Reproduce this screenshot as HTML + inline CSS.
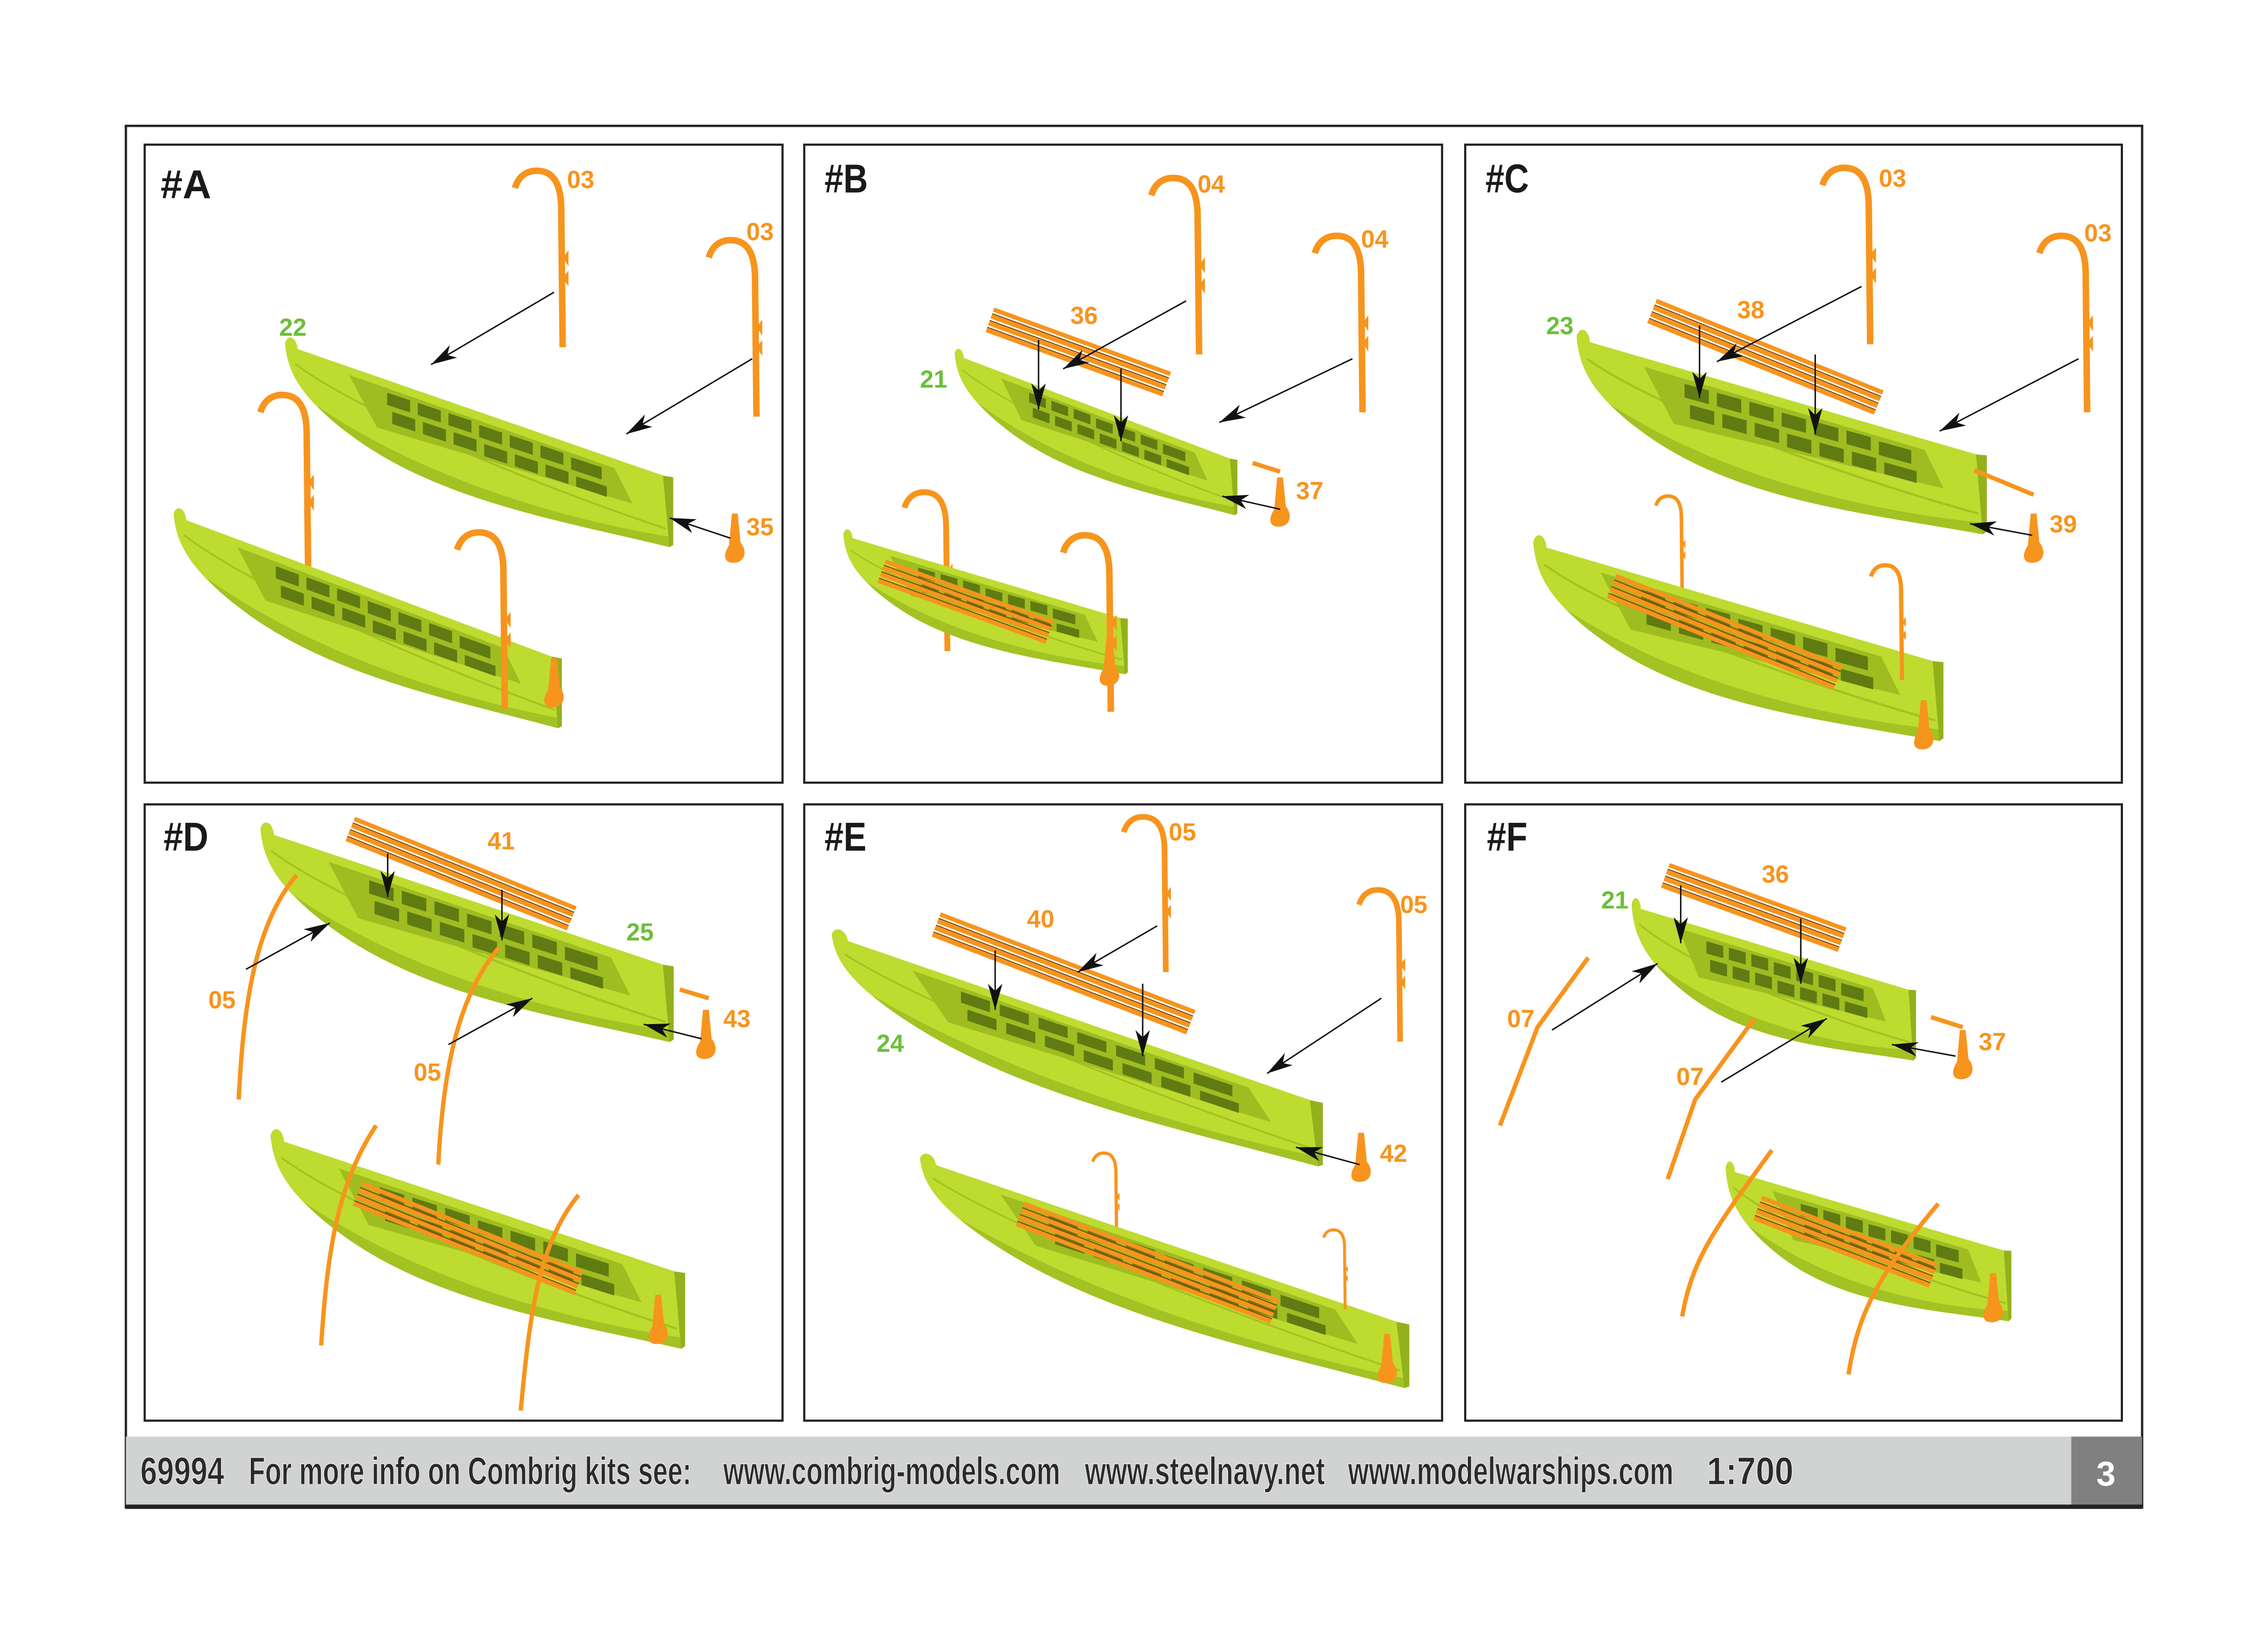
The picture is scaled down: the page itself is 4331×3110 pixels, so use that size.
<!DOCTYPE html>
<html><head><meta charset="utf-8"><style>
html,body{margin:0;padding:0;background:#fff}
svg{display:block}
.t{font-family:"Liberation Sans Narrow","Liberation Sans",sans-serif;font-weight:bold}
.o{fill:#f7941d;font-size:17px}
.g{fill:#6cbf3a;font-size:17px}
.h{fill:#1a1a1a;font-size:28px}
</style></head><body>
<svg width="4331" height="3110" viewBox="0 0 1568 1126" xmlns="http://www.w3.org/2000/svg">
<defs>
<marker id="ar" viewBox="0 0 18 10" refX="18" refY="5" markerWidth="18" markerHeight="10" markerUnits="userSpaceOnUse" orient="auto"><path d="M0,0 L18,5 L0,10 L5,5Z" fill="#111"/></marker>
<g id="boat">
<path d="M0,-4 C2,-10 9,-10 10,-3 L300,0 L301,40 C220,45 120,58 50,36 C15,25 2,14 0,-4Z" fill="#bedb30"/>
<path d="M25,26 C110,48 220,44 301,34 L301,40 C220,45 120,58 50,36 C40,33 32,30 25,26Z" fill="#a3c223"/>
<path d="M8,6 C60,22 200,30 298,30" stroke="#a3c223" stroke-width="1.2" fill="none"/>
<path d="M50,2 L258,5 L272,22 L72,27Z" fill="#9fbd21"/>
<g fill="#5f7b12">
<rect x="80" y="5" width="18" height="7"/><rect x="104" y="5" width="18" height="7"/><rect x="128" y="5" width="18" height="7"/><rect x="152" y="6" width="18" height="7"/><rect x="176" y="6" width="18" height="7"/><rect x="200" y="6" width="18" height="7"/><rect x="224" y="7" width="24" height="7"/>
<rect x="84" y="15" width="18" height="7"/><rect x="108" y="15" width="18" height="7"/><rect x="132" y="15" width="18" height="7"/><rect x="156" y="16" width="18" height="7"/><rect x="180" y="16" width="18" height="7"/><rect x="204" y="16" width="18" height="7"/><rect x="228" y="17" width="24" height="6"/>
</g>
<path d="M296,0 L304,-1 L304,38 L301,40Z" fill="#93b11c"/>
</g>
<g id="dav">
<path d="M0,0 L-1,-95 C-1,-118 -10,-122 -18,-122 C-26,-122 -31,-117 -33,-110" fill="none" stroke="#f7941d" stroke-width="4.5"/>
<path d="M0,-62 l4,-5 v11z M0,-48 l4,-5 v11z" fill="#f7941d"/>
</g>
<path id="rud" d="M0,0 L4,0 L6,20 C11,26 9,34 1,34 C-6,34 -6,28 -2,22 Z" fill="#f7941d"/>
<g id="pl">
<line x1="0" y1="0" x2="130" y2="0" stroke="#f7941d" stroke-width="3"/>
<line x1="0" y1="3" x2="130" y2="3" stroke="#8a4a00" stroke-width="0.8"/>
<line x1="0" y1="5" x2="130" y2="5" stroke="#f7941d" stroke-width="3"/>
<line x1="0" y1="8" x2="130" y2="8" stroke="#8a4a00" stroke-width="0.8"/>
<line x1="0" y1="10" x2="130" y2="10" stroke="#f7941d" stroke-width="3"/>
<line x1="0" y1="13" x2="130" y2="13" stroke="#8a4a00" stroke-width="0.8"/>
<line x1="0" y1="15" x2="130" y2="15" stroke="#f7941d" stroke-width="3"/>
</g>
</defs>

<!-- frame -->
<rect x="87" y="87" width="1394" height="955" fill="none" stroke="#222" stroke-width="1.6"/>
<g fill="none" stroke="#222" stroke-width="1.5">
<rect x="100" y="100" width="441" height="441"/>
<rect x="556" y="100" width="441" height="441"/>
<rect x="1013" y="100" width="454" height="441"/>
<rect x="100" y="556" width="441" height="426"/>
<rect x="556" y="556" width="441" height="426"/>
<rect x="1013" y="556" width="454" height="426"/>
</g>
<rect x="87" y="993" width="1345" height="48" fill="#d1d3d2"/>
<rect x="1432" y="993" width="49" height="48" fill="#808080"/>
<rect x="87" y="1040" width="1394" height="3" fill="#222"/>
<g class="t" font-size="27" fill="#2a2a2a" stroke="#fff" stroke-width="0.4">
<text x="97" y="1026" textLength="58" lengthAdjust="spacingAndGlyphs">69994</text>
<text x="172" y="1026" textLength="306" lengthAdjust="spacingAndGlyphs">For more info on Combrig kits see:</text>
<text x="500" y="1026" textLength="233" lengthAdjust="spacingAndGlyphs">www.combrig-models.com</text>
<text x="750" y="1026" textLength="166" lengthAdjust="spacingAndGlyphs">www.steelnavy.net</text>
<text x="932" y="1026" textLength="225" lengthAdjust="spacingAndGlyphs">www.modelwarships.com</text>
<text x="1180" y="1026" textLength="60" lengthAdjust="spacingAndGlyphs">1:700</text>
</g>
<text class="t" x="1456" y="1027" font-size="24" fill="#fff" text-anchor="middle">3</text>

<!-- titles -->
<g class="t h">
<text x="111" y="137" textLength="35" lengthAdjust="spacingAndGlyphs">#A</text>
<text x="570" y="133" textLength="30" lengthAdjust="spacingAndGlyphs">#B</text>
<text x="1027" y="133" textLength="30" lengthAdjust="spacingAndGlyphs">#C</text>
<text x="113" y="588" textLength="31" lengthAdjust="spacingAndGlyphs">#D</text>
<text x="570" y="588" textLength="29" lengthAdjust="spacingAndGlyphs">#E</text>
<text x="1028" y="588" textLength="28" lengthAdjust="spacingAndGlyphs">#F</text>
</g>

<!-- ===== A ===== -->
<use href="#dav" transform="translate(213,395)"/>
<use href="#boat" transform="matrix(0.883,0.293,0,1.2,197,242)"/>
<use href="#boat" transform="matrix(0.883,0.317,0,1.2,120,360)"/>
<use href="#dav" transform="translate(349,490)"/>
<use href="#rud" transform="translate(381,455)"/>
<use href="#dav" transform="translate(389,240)"/>
<use href="#dav" transform="translate(523,288)"/>
<use href="#rud" transform="translate(506,355)"/>
<g stroke="#111" stroke-width="1" marker-end="url(#ar)">
<line x1="383" y1="202" x2="298" y2="252"/><line x1="520" y1="248" x2="433" y2="300"/><line x1="505" y1="372" x2="463" y2="358"/>
</g>
<g class="t"><text class="o" x="392" y="130">03</text><text class="o" x="516" y="166">03</text><text class="g" x="193" y="232">22</text><text class="o" x="516" y="370">35</text></g>

<!-- ===== B ===== -->
<use href="#dav" transform="translate(655,450) scale(0.9)"/>
<use href="#boat" transform="matrix(0.643,0.233,0,0.95,660,248)"/>
<use href="#boat" transform="matrix(0.647,0.183,0,0.95,583,373)"/>
<use href="#pl" transform="translate(612,388) rotate(20) scale(0.95)"/>
<use href="#dav" transform="translate(768,492)"/>
<use href="#rud" transform="translate(765,440)"/>
<use href="#pl" transform="translate(687,214) rotate(20)"/>
<use href="#dav" transform="translate(829,245)"/>
<use href="#dav" transform="translate(942,285)"/>
<use href="#rud" transform="translate(883,330)"/>
<path d="M866,320 L885,326" stroke="#f7941d" stroke-width="3"/>
<g stroke="#111" stroke-width="1" marker-end="url(#ar)">
<line x1="820" y1="208" x2="735" y2="255"/><line x1="935" y1="248" x2="843" y2="292"/><line x1="885" y1="352" x2="845" y2="343"/><line x1="718" y1="235" x2="718" y2="283"/><line x1="775" y1="255" x2="775" y2="305"/>
</g>
<g class="t"><text class="o" x="828" y="133">04</text><text class="o" x="941" y="171">04</text><text class="o" x="740" y="224">36</text><text class="g" x="636" y="268">21</text><text class="o" x="896" y="345">37</text></g>

<!-- ===== C ===== -->
<use href="#dav" transform="translate(1163,410) scale(0.55)"/>
<use href="#boat" transform="matrix(0.933,0.257,0,1.35,1090,238)"/>
<use href="#boat" transform="matrix(0.933,0.26,0,1.35,1060,380)"/>
<use href="#pl" transform="translate(1117,398) rotate(22) scale(1.3,1)"/>
<use href="#dav" transform="translate(1315,470) scale(0.65)"/>
<use href="#rud" transform="translate(1328,484)"/>
<use href="#pl" transform="translate(1145,208) rotate(22) scale(1.3,1)"/>
<use href="#dav" transform="translate(1293,238)"/>
<use href="#dav" transform="translate(1443,285)"/>
<use href="#rud" transform="translate(1404,355)"/>
<path d="M1365,325 L1406,342" stroke="#f7941d" stroke-width="3"/>
<g stroke="#111" stroke-width="1" marker-end="url(#ar)">
<line x1="1287" y1="198" x2="1187" y2="250"/><line x1="1437" y1="248" x2="1341" y2="298"/><line x1="1405" y1="370" x2="1362" y2="362"/><line x1="1175" y1="225" x2="1175" y2="275"/><line x1="1255" y1="245" x2="1255" y2="300"/>
</g>
<g class="t"><text class="o" x="1299" y="129">03</text><text class="o" x="1441" y="167">03</text><text class="g" x="1069" y="231">23</text><text class="o" x="1201" y="220">38</text><text class="o" x="1417" y="368">39</text></g>

<!-- ===== D ===== -->
<use href="#boat" transform="matrix(0.94,0.3,0,1.3,180,578)"/>
<use href="#boat" transform="matrix(0.943,0.3,0,1.3,187,790)"/>
<use href="#pl" transform="translate(250,818) rotate(22) scale(1.27,1)"/>
<path d="M222,930 C226,870 232,820 260,778" fill="none" stroke="#f7941d" stroke-width="3"/>
<path d="M360,975 C366,910 372,860 400,826" fill="none" stroke="#f7941d" stroke-width="3"/>
<use href="#rud" transform="translate(453,895)"/>
<use href="#pl" transform="translate(245,566) rotate(22) scale(1.27,1)"/>
<path d="M165,760 C168,700 175,640 205,605" fill="none" stroke="#f7941d" stroke-width="3"/>
<path d="M303,805 C306,745 315,690 345,655" fill="none" stroke="#f7941d" stroke-width="3"/>
<use href="#rud" transform="translate(486,698)"/>
<path d="M470,684 L490,690" stroke="#f7941d" stroke-width="3"/>
<g stroke="#111" stroke-width="1" marker-end="url(#ar)">
<line x1="170" y1="670" x2="228" y2="638"/><line x1="310" y1="722" x2="368" y2="690"/><line x1="485" y1="718" x2="445" y2="708"/><line x1="268" y1="590" x2="268" y2="620"/><line x1="347" y1="615" x2="347" y2="650"/>
</g>
<g class="t"><text class="o" x="337" y="587">41</text><text class="g" x="433" y="650">25</text><text class="o" x="144" y="697">05</text><text class="o" x="286" y="747">05</text><text class="o" x="500" y="710">43</text></g>

<!-- ===== E ===== -->
<use href="#dav" transform="translate(772,858) scale(0.5)"/>
<use href="#boat" transform="matrix(1.117,0.373,0,1.1,575,650)"/>
<use href="#boat" transform="matrix(1.113,0.367,0,1.1,636,805)"/>
<use href="#pl" transform="translate(708,832) rotate(21) scale(1.45,1)"/>
<use href="#dav" transform="translate(930,905) scale(0.45)"/>
<use href="#rud" transform="translate(957,922)"/>
<use href="#pl" transform="translate(650,632) rotate(21) scale(1.45,1)"/>
<use href="#dav" transform="translate(806,672) scale(0.88)"/>
<use href="#dav" transform="translate(968,720) scale(0.86)"/>
<use href="#rud" transform="translate(939,783)"/>
<g stroke="#111" stroke-width="1" marker-end="url(#ar)">
<line x1="800" y1="640" x2="745" y2="672"/><line x1="955" y1="690" x2="876" y2="742"/><line x1="940" y1="805" x2="896" y2="793"/><line x1="688" y1="657" x2="688" y2="698"/><line x1="790" y1="680" x2="790" y2="730"/>
</g>
<g class="t"><text class="o" x="808" y="581">05</text><text class="o" x="968" y="631">05</text><text class="o" x="710" y="641">40</text><text class="g" x="606" y="727">24</text><text class="o" x="954" y="803">42</text></g>

<!-- ===== F ===== -->
<use href="#boat" transform="matrix(0.647,0.183,0,1.2,1128,630)"/>
<use href="#boat" transform="matrix(0.65,0.177,0,1.2,1193,812)"/>
<use href="#pl" transform="translate(1218,828) rotate(21)"/>
<path d="M1163,910 C1170,870 1185,850 1225,795" fill="none" stroke="#f7941d" stroke-width="3"/>
<path d="M1278,950 C1285,905 1300,880 1340,832" fill="none" stroke="#f7941d" stroke-width="3"/>
<use href="#rud" transform="translate(1376,880)"/>
<use href="#pl" transform="translate(1154,598) rotate(20)"/>
<path d="M1037,778 L1063,710 L1098,662" fill="none" stroke="#f7941d" stroke-width="3"/>
<path d="M1153,815 L1172,760 L1213,704" fill="none" stroke="#f7941d" stroke-width="3"/>
<use href="#rud" transform="translate(1355,712)"/>
<path d="M1335,703 L1357,710" stroke="#f7941d" stroke-width="3"/>
<g stroke="#111" stroke-width="1" marker-end="url(#ar)">
<line x1="1073" y1="712" x2="1146" y2="666"/><line x1="1190" y1="748" x2="1263" y2="704"/><line x1="1352" y1="730" x2="1308" y2="722"/><line x1="1162" y1="612" x2="1162" y2="652"/><line x1="1245" y1="635" x2="1245" y2="680"/>
</g>
<g class="t"><text class="o" x="1218" y="610">36</text><text class="g" x="1107" y="628">21</text><text class="o" x="1042" y="710">07</text><text class="o" x="1159" y="750">07</text><text class="o" x="1368" y="726">37</text></g>
</svg>
</body></html>
